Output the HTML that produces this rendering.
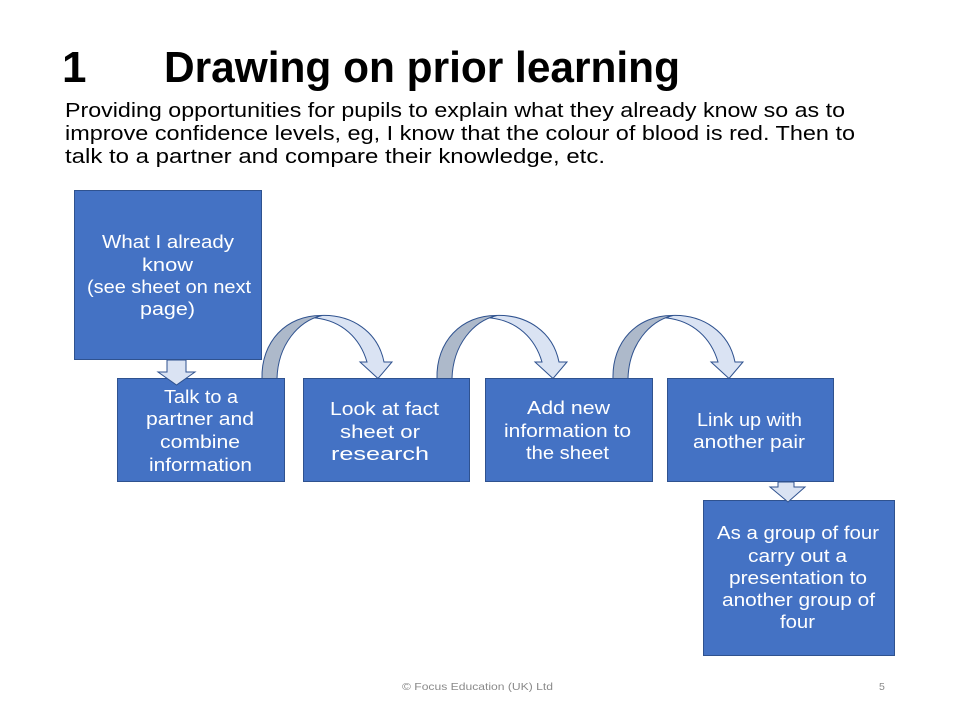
<!DOCTYPE html>
<html>
<head>
<meta charset="utf-8">
<style>
html,body{margin:0;padding:0;background:#fff;}
svg{display:block;}
text{font-family:"Liberation Sans",Arial,sans-serif;}
.bx{fill:#4472c4;stroke:#2f528f;stroke-width:1;}
.w{fill:#fff;font-size:18.5px;}
.p{fill:#000;font-size:20px;}
.lt{fill:#dae3f3;stroke:#2f528f;stroke-width:1;}
.dk{fill:#adb9ca;stroke:#2f528f;stroke-width:1;}
</style>
</head>
<body>
<svg width="960" height="720" viewBox="0 0 960 720" xmlns="http://www.w3.org/2000/svg">
<rect width="960" height="720" fill="#fff"/>

<!-- Title -->
<text x="62" y="82" font-size="44" font-weight="bold" fill="#000">1</text>
<text x="164" y="82" font-size="44" font-weight="bold" fill="#000" textLength="516" lengthAdjust="spacingAndGlyphs">Drawing on prior learning</text>

<!-- Paragraph -->
<text class="p" x="65" y="117" textLength="780" lengthAdjust="spacingAndGlyphs">Providing opportunities  for pupils to explain what they already know so as to</text>
<text class="p" x="65" y="140" textLength="790" lengthAdjust="spacingAndGlyphs">improve confidence levels, eg, I know that the colour of blood is red. Then to</text>
<text class="p" x="65" y="163" textLength="540" lengthAdjust="spacingAndGlyphs">talk to a partner and compare their knowledge, etc.</text>

<!-- Boxes -->
<rect class="bx" x="74.5" y="190.5" width="187" height="169"/>
<rect class="bx" x="117.5" y="378.5" width="167" height="103"/>
<rect class="bx" x="303.5" y="378.5" width="166" height="103"/>
<rect class="bx" x="485.5" y="378.5" width="167" height="103"/>
<rect class="bx" x="667.5" y="378.5" width="166" height="103"/>
<rect class="bx" x="703.5" y="500.5" width="191" height="155"/>

<!-- Box texts -->
<text class="w" x="102" y="248" textLength="132" lengthAdjust="spacingAndGlyphs">What I already</text>
<text class="w" x="142" y="271" textLength="51" lengthAdjust="spacingAndGlyphs">know</text>
<text class="w" x="87" y="293" textLength="164" lengthAdjust="spacingAndGlyphs">(see sheet on next</text>
<text class="w" x="140" y="315" textLength="55" lengthAdjust="spacingAndGlyphs">page)</text>

<text class="w" x="164" y="403" textLength="74" lengthAdjust="spacingAndGlyphs">Talk to a</text>
<text class="w" x="146" y="425" textLength="108" lengthAdjust="spacingAndGlyphs">partner and</text>
<text class="w" x="160" y="448" textLength="80" lengthAdjust="spacingAndGlyphs">combine</text>
<text class="w" x="149" y="471" textLength="103" lengthAdjust="spacingAndGlyphs">information</text>

<text class="w" x="330" y="415" textLength="109" lengthAdjust="spacingAndGlyphs">Look at fact</text>
<text class="w" x="340" y="438" textLength="80" lengthAdjust="spacingAndGlyphs">sheet or</text>
<text class="w" x="331" y="460" textLength="98" lengthAdjust="spacingAndGlyphs">research</text>

<text class="w" x="527" y="414" textLength="83" lengthAdjust="spacingAndGlyphs">Add new</text>
<text class="w" x="504" y="437" textLength="127" lengthAdjust="spacingAndGlyphs">information to</text>
<text class="w" x="526" y="459" textLength="83" lengthAdjust="spacingAndGlyphs">the sheet</text>

<text class="w" x="697" y="426" textLength="105" lengthAdjust="spacingAndGlyphs">Link up with</text>
<text class="w" x="693" y="448" textLength="112" lengthAdjust="spacingAndGlyphs">another pair</text>

<text class="w" x="717" y="539" textLength="162" lengthAdjust="spacingAndGlyphs">As a group of four</text>
<text class="w" x="748" y="562" textLength="99" lengthAdjust="spacingAndGlyphs">carry out a</text>
<text class="w" x="729" y="584" textLength="138" lengthAdjust="spacingAndGlyphs">presentation to</text>
<text class="w" x="722" y="606" textLength="153" lengthAdjust="spacingAndGlyphs">another group of</text>
<text class="w" x="780" y="628" textLength="35" lengthAdjust="spacingAndGlyphs">four</text>

<!-- Down arrows -->
<path class="lt" d="M167,360 L186,360 L186,372 L195,372 L176.5,385 L158,372 L167,372 Z"/>
<path class="lt" d="M778,482 L794,482 L794,487 L805,487 L788,502 L770,487 L778,487 Z"/>

<!-- Curved arrows -->
<defs>
<g id="carc">
<path class="lt" d="M320,315.5 C352,314 378,332 384,362 L392,362 L378,378.5 L360,362 L367,362 C360,338 342,321 316,318 Z"/>
<path class="dk" d="M262,378.5 C261,342 286,315 322,315.5 C298,321 278,345 277,378.5 Z"/>
</g>
</defs>
<use href="#carc"/>
<use href="#carc" transform="translate(175,0)"/>
<use href="#carc" transform="translate(351,0)"/>

<!-- Footer -->
<text x="402" y="690" font-size="10.5" fill="#8a8a8a" textLength="151" lengthAdjust="spacingAndGlyphs">© Focus Education  (UK) Ltd</text>
<text x="879" y="690" font-size="10.5" fill="#8a8a8a">5</text>
</svg>
</body>
</html>
